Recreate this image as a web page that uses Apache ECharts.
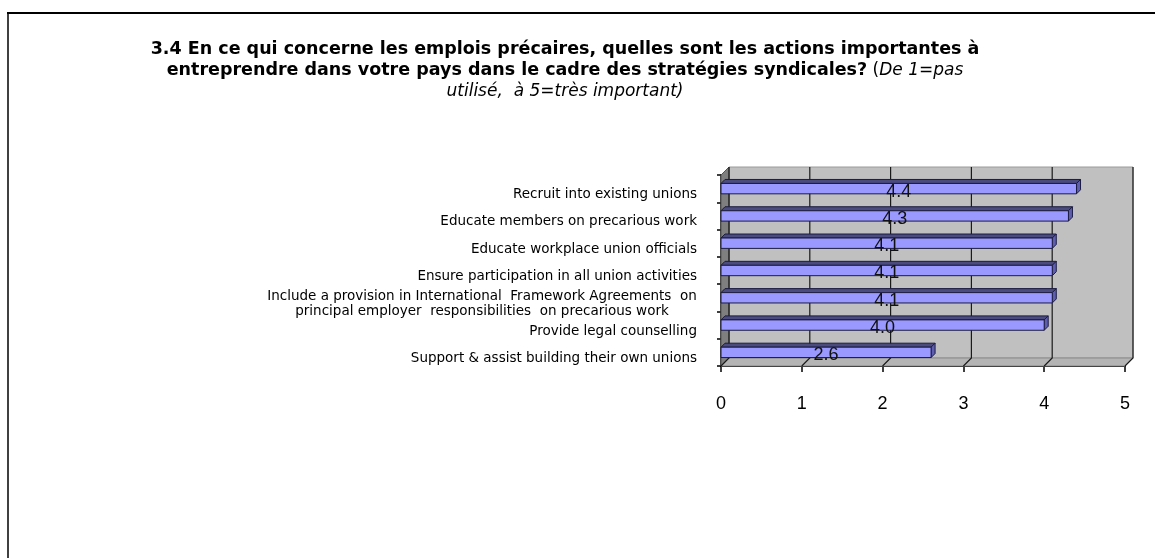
<!DOCTYPE html>
<html>
<head>
<meta charset="utf-8">
<title>Emplois précaires – actions importantes</title>
<script src="https://cdn.jsdelivr.net/npm/echarts@6/dist/echarts.min.js"></script>
<style>
  html, body { margin: 0; padding: 0; background: #ffffff; }
  #chart { width: 1155px; height: 558px; }
</style>
</head>
<body>
<div id="chart"></div>
<script>
// Survey actions, top to bottom as listed
const categories = [
  'Recruit into existing unions',
  'Educate members on precarious work',
  'Educate workplace union officials',
  'Ensure participation in all union activities',
  'Include a provision in International  Framework Agreements  on\nprincipal employer  responsibilities  on precarious work',
  'Provide legal counselling',
  'Support & assist building their own unions'
];
// Average score per action (1 = not used, 5 = very important)
const values = [4.4, 4.3, 4.1, 4.1, 4.1, 4.0, 2.6];
// Value-axis ticks
const xTicks = [0, 1, 2, 3, 4, 5];

const labelFont = '"DejaVu Sans", "Liberation Sans", Arial, sans-serif';
const arial = '"Liberation Sans", Arial, sans-serif';
const LABEL_SIZE = 13.5;

// Width of the longest line of the two-line label, so both lines can be centred together
const measureCtx = document.createElement('canvas').getContext('2d');
measureCtx.font = LABEL_SIZE + 'px ' + labelFont;
const twoLineWidth = Math.ceil(Math.max.apply(null,
  categories[4].split('\n').map(s => measureCtx.measureText(s).width)));

const DEPTH = 8;      // depth of the walls (px)
const BAR_DEPTH = 4;  // depth of each bar (px)

const chart = echarts.init(document.getElementById('chart'), null, { renderer: 'canvas' });

// Back wall, side wall, floor and gridlines of the 3D frame
function renderWalls(params, api) {
  const n = categories.length;
  const band = api.size([0, 1])[1];
  const topC = api.coord([0, 0]);
  const botC = api.coord([0, n - 1]);
  const yTop = topC[1] - band / 2;
  const yBot = botC[1] + band / 2;
  const xL = api.coord([xTicks[0], 0])[0];
  const xR = api.coord([xTicks[xTicks.length - 1], 0])[0];
  const d = DEPTH;
  const children = [
    { type: 'polygon', shape: { points: [[xL + d, yTop - d], [xR + d, yTop - d], [xR + d, yBot - d], [xL + d, yBot - d]] },
      style: { fill: '#c0c0c0', stroke: '#9a9a9a', lineWidth: 1 } },
    { type: 'polygon', shape: { points: [[xL, yBot], [xL + d, yBot - d], [xR + d, yBot - d], [xR, yBot]] },
      style: { fill: '#b4b4b4', stroke: '#8a8a8a', lineWidth: 1 } },
    { type: 'polygon', shape: { points: [[xL, yTop], [xL + d, yTop - d], [xL + d, yBot - d], [xL, yBot]] },
      style: { fill: '#7f7f7f', stroke: '#555555', lineWidth: 1 } }
  ];
  xTicks.forEach(t => {
    const x = api.coord([t, 0])[0];
    children.push({ type: 'polyline',
      shape: { points: [[x + d, yTop - d], [x + d, yBot - d], [x, yBot]] },
      style: { stroke: '#1a1a1a', lineWidth: 1.2, fill: null } });
  });
  return { type: 'group', children: children };
}

// One 3D bar: front face, top face, end cap and its value label
function renderBar(params, api) {
  const cat = api.value(0);
  const v = api.value(1);
  const p0 = api.coord([0, cat]);
  const p1 = api.coord([v, cat]);
  const band = api.size([0, 1])[1];
  const h = band * 0.38;
  const d = BAR_DEPTH;
  const x0 = p0[0], x1 = p1[0];
  const y0 = p0[1] - h / 2, y1 = p0[1] + h / 2;
  const edge = '#1c1c40';
  return {
    type: 'group',
    children: [
      { type: 'polygon', shape: { points: [[x0, y0], [x0 + d, y0 - d], [x1 + d, y0 - d], [x1, y0]] },
        style: { fill: '#4b4b7e', stroke: edge, lineWidth: 1 } },
      { type: 'polygon', shape: { points: [[x1, y0], [x1 + d, y0 - d], [x1 + d, y1 - d], [x1, y1]] },
        style: { fill: '#5e5eb0', stroke: edge, lineWidth: 1 } },
      { type: 'rect', shape: { x: x0, y: y0, width: x1 - x0, height: h },
        style: { fill: '#9999ff', stroke: edge, lineWidth: 1 } },
      { type: 'text', x: (x0 + x1) / 2, y: p0[1] + 3,
        style: { text: v.toFixed(1), fill: '#111111', font: '18px ' + arial, align: 'center', verticalAlign: 'middle' } }
    ]
  };
}

const option = {
  animation: false,
  backgroundColor: '#ffffff',
  title: {
    left: 560,
    top: 34,
    textAlign: 'center',
    text: '{b|3.4 En ce qui concerne les emplois précaires, quelles sont les actions importantes à}\n' +
          '{b|entreprendre dans votre pays dans le cadre des stratégies syndicales?}{n| (}{i|De 1=pas}\n' +
          '{i|utilisé,  à 5=très important)}',
    textStyle: {
      lineHeight: 21,
      rich: {
        b: { fontFamily: labelFont, fontWeight: 'bold', fontSize: 17.5, color: '#000', lineHeight: 21 },
        n: { fontFamily: labelFont, fontWeight: 'normal', fontSize: 17, color: '#000', lineHeight: 21 },
        i: { fontFamily: labelFont, fontWeight: 'normal', fontStyle: 'italic', fontSize: 17, color: '#000', lineHeight: 21 }
      }
    }
  },
  graphic: [
    { type: 'line', shape: { x1: 7, y1: 13, x2: 1155, y2: 13 }, style: { stroke: '#000', lineWidth: 2 }, silent: true },
    { type: 'line', shape: { x1: 8, y1: 12, x2: 8, y2: 558 }, style: { stroke: '#000', lineWidth: 1.5 }, silent: true }
  ],
  grid: [
    { left: 721, top: 175, width: 404, height: 191, containLabel: false },
    { left: 721, top: 181, width: 404, height: 191, containLabel: false }
  ],
  xAxis: [
    {
      type: 'value', gridIndex: 0, min: 0, max: 5, interval: 1,
      axisLine: { show: true, lineStyle: { color: '#000', width: 1 } },
      axisTick: { show: true, length: 6, lineStyle: { color: '#000', width: 1.5 } },
      axisLabel: { show: true, margin: 29, color: '#000', fontSize: 18, fontFamily: arial },
      splitLine: { show: false }
    },
    { type: 'value', gridIndex: 1, min: 0, max: 5, show: false }
  ],
  yAxis: [
    {
      type: 'category', gridIndex: 0, data: categories, inverse: true,
      axisLine: { show: true, lineStyle: { color: '#000', width: 1.5 } },
      axisTick: { show: true, length: 4, lineStyle: { color: '#000', width: 1.5 } },
      axisLabel: { show: false },
      splitLine: { show: false }
    },
    {
      type: 'category', gridIndex: 1, data: categories, inverse: true,
      axisLine: { show: false }, axisTick: { show: false }, splitLine: { show: false },
      axisLabel: {
        show: true, margin: 24, color: '#000', fontSize: LABEL_SIZE, fontFamily: labelFont, lineHeight: 15,
        formatter: function (val) {
          if (val.indexOf('\n') >= 0) {
            return val.split('\n').map(s => '{c|' + s + '}').join('\n');
          }
          return val;
        },
        rich: {
          c: { width: twoLineWidth, align: 'center', fontSize: LABEL_SIZE, fontFamily: labelFont, color: '#000', lineHeight: 15 }
        }
      }
    }
  ],
  series: [
    {
      type: 'custom', name: 'frame', xAxisIndex: 0, yAxisIndex: 0, z: 1, silent: true,
      renderItem: renderWalls, data: [[0, 0]], encode: { x: 1, y: 0 }
    },
    {
      type: 'custom', name: 'score', xAxisIndex: 0, yAxisIndex: 0, z: 3, silent: true,
      renderItem: renderBar,
      data: values.map((v, i) => [i, v]),
      encode: { x: 1, y: 0 }
    }
  ]
};

chart.setOption(option);
</script>
</body>
</html>
